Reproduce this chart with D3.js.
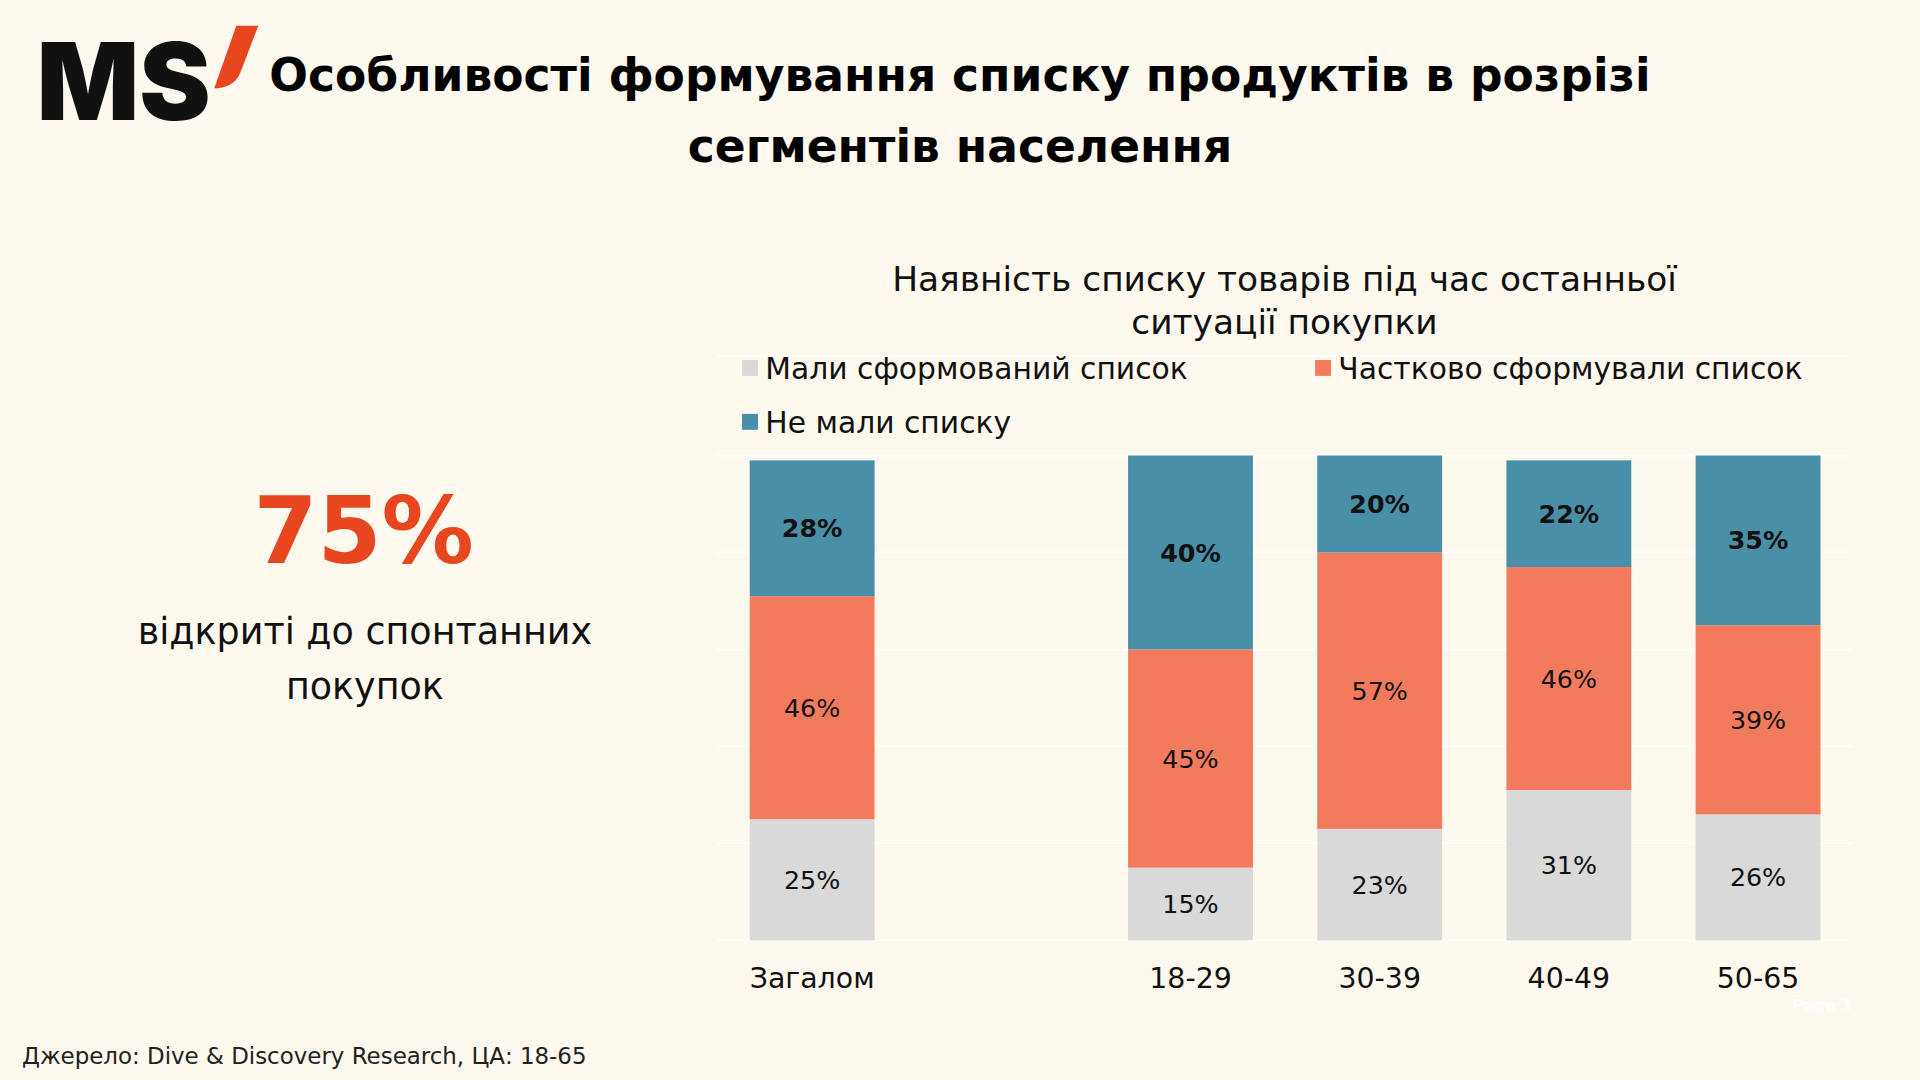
<!DOCTYPE html>
<html lang="uk">
<head>
    <meta charset="UTF-8">
    <title>Особливості формування списку продуктів</title>
    <style>
        html, body {
            margin: 0;
            padding: 0;
            background: #fdf9ee;
        }
        svg {
            display: block;
            font-family: "DejaVu Sans", sans-serif;
        }
    </style>
    <script src="https://d3js.org/d3.v7.min.js"></script>
</head>
<body>
    <div id="chart"></div>

    <script>
        // chart data
        const groups = ["Загалом", "18-29", "30-39", "40-49", "50-65"];
        const seriesNames = ["Мали сформований список", "Частково сформували список", "Не мали списку"];
        const hadList = [25, 15, 23, 31, 26];
        const partialList = [46, 45, 57, 46, 39];
        const noList = [28, 40, 20, 22, 35];
        const yTicks = [0, 20, 40, 60, 80, 100];

        const colors = ["#d9d9d9", "#f27b5d", "#498fa8"];
        const accent = "#e8461e";

        // drawing is done in a 1568x882 frame, scaled up to the window
        const W = 1568, H = 882;

        const svg = d3.select("#chart").append("svg")
            .attr("width", 1920)
            .attr("height", 1080)
            .attr("viewBox", `0 0 ${W} ${H}`);

        svg.append("rect").attr("width", W).attr("height", H).attr("fill", "#fdf9ee");

        // scale font so that the text gets the given width
        function fitText(sel, target) {
            const w = sel.node().getComputedTextLength();
            const fs = +sel.attr("font-size") * target / w;
            sel.attr("font-size", fs);
            return fs;
        }

        // logo
        const logo = svg.append("text")
            .attr("x", 30).attr("y", 98)
            .attr("font-family", "Inter, Lato, sans-serif")
            .attr("font-size", 92).attr("font-weight", 900)
            .attr("fill", "#111")
            .text("MS");
        fitText(logo, 142);
        svg.append("path")
            .attr("d", "M193,21 L211,21 L196,60 C193,67 187,71 178,72 L175,72 Z")
            .attr("fill", accent);

        // page title
        const t1 = svg.append("text")
            .attr("x", 784).attr("y", 74)
            .attr("text-anchor", "middle")
            .attr("font-size", 38).attr("font-weight", 700)
            .attr("fill", "#000")
            .text("Особливості формування списку продуктів в розрізі");
        const tfs = fitText(t1, 1128);
        svg.append("text")
            .attr("x", 784).attr("y", 132)
            .attr("text-anchor", "middle")
            .attr("font-size", tfs).attr("font-weight", 700)
            .attr("fill", "#000")
            .text("сегментів населення");

        // left side key figure
        const big = svg.append("text")
            .attr("x", 297).attr("y", 460)
            .attr("text-anchor", "middle")
            .attr("font-size", 90).attr("font-weight", 700)
            .attr("fill", accent)
            .text("75%");
        fitText(big, 180);
        const s1 = svg.append("text")
            .attr("x", 298).attr("y", 526)
            .attr("text-anchor", "middle")
            .attr("font-size", 28)
            .attr("fill", "#111")
            .text("відкриті до спонтанних");
        const sfs = fitText(s1, 371);
        svg.append("text")
            .attr("x", 298).attr("y", 571)
            .attr("text-anchor", "middle")
            .attr("font-size", sfs)
            .attr("fill", "#111")
            .text("покупок");

        // source
        const src = svg.append("text")
            .attr("x", 18).attr("y", 869)
            .attr("font-size", 18)
            .attr("fill", "#222")
            .text("Джерело: Dive & Discovery Research, ЦА: 18-65");
        fitText(src, 461);

        // chart title
        const c1 = svg.append("text")
            .attr("x", 1049).attr("y", 238)
            .attr("text-anchor", "middle")
            .attr("font-size", 26)
            .attr("fill", "#111")
            .text("Наявність списку товарів під час останньої");
        const cfs = fitText(c1, 641);
        svg.append("text")
            .attr("x", 1049).attr("y", 273)
            .attr("text-anchor", "middle")
            .attr("font-size", cfs)
            .attr("fill", "#111")
            .text("ситуації покупки");

        // scales
        const domain = [groups[0], "", ...groups.slice(1)];
        const x = d3.scaleBand()
            .domain(domain)
            .range([586, 1513])
            .paddingInner(0.34)
            .paddingOuter(0.17);

        const y = d3.scaleLinear()
            .domain([0, 100])
            .range([768, 372]);

        // plot area lines
        svg.append("line")
            .attr("x1", 586).attr("x2", 1513)
            .attr("y1", 291).attr("y2", 291)
            .attr("stroke", "#ffffff").attr("stroke-width", 1.5);

        svg.append("g").selectAll("line")
            .data(yTicks)
            .join("line")
            .attr("x1", 586).attr("x2", 1513)
            .attr("y1", d => y(d)).attr("y2", d => y(d))
            .attr("stroke", "#ffffff").attr("stroke-width", 1.5);

        // legend
        const legendPos = [[606, 301], [1074, 301], [606, 345]];
        const legend = svg.append("g");
        let lfs = 22;
        seriesNames.forEach((name, i) => {
            const [lx, ly] = legendPos[i];
            legend.append("rect")
                .attr("x", lx).attr("y", ly - 7)
                .attr("width", 13).attr("height", 13)
                .attr("fill", colors[i]);
            const t = legend.append("text")
                .attr("x", lx + 19).attr("y", ly)
                .attr("dy", "0.36em")
                .attr("font-size", lfs)
                .attr("fill", "#111")
                .text(name);
            if (i === 0) lfs = fitText(t, 345);
        });

        // stacked bars
        const rows = groups.map((g, i) => ({
            group: g,
            had: hadList[i],
            partial: partialList[i],
            none: noList[i]
        }));
        const stack = d3.stack().keys(["had", "partial", "none"])(rows);

        const layers = svg.append("g").selectAll("g")
            .data(stack)
            .join("g")
            .attr("fill", (d, i) => colors[i]);

        layers.selectAll("rect")
            .data(d => d)
            .join("rect")
            .attr("x", d => x(d.data.group))
            .attr("y", d => y(d[1]))
            .attr("width", x.bandwidth())
            .attr("height", d => y(d[0]) - y(d[1]));

        // value labels
        const probe = svg.append("text").attr("font-size", 22).text("25%");
        const vfs = fitText(probe, 46);
        probe.remove();

        stack.forEach((layer, li) => {
            svg.append("g").selectAll("text")
                .data(layer)
                .join("text")
                .attr("x", d => x(d.data.group) + x.bandwidth() / 2)
                .attr("y", d => (y(d[0]) + y(d[1])) / 2)
                .attr("dy", "0.36em")
                .attr("text-anchor", "middle")
                .attr("font-size", vfs)
                .attr("font-weight", li === 2 ? 700 : 400)
                .attr("fill", "#111")
                .text(d => (d[1] - d[0]) + "%");
        });

        // category axis labels
        const probe2 = svg.append("text").attr("font-size", 22).text(groups[0]);
        const afs = fitText(probe2, 102);
        probe2.remove();

        svg.append("g").selectAll("text")
            .data(groups)
            .join("text")
            .attr("x", d => x(d) + x.bandwidth() / 2)
            .attr("y", 807)
            .attr("text-anchor", "middle")
            .attr("font-size", afs)
            .attr("fill", "#111")
            .text(d => d);

        // faint page marker
        svg.append("text")
            .attr("x", 1488).attr("y", 826)
            .attr("text-anchor", "middle")
            .attr("font-size", 13).attr("font-weight", 700)
            .attr("fill", "#ffffff")
            .text("Page 1");
    </script>
</body>
</html>
